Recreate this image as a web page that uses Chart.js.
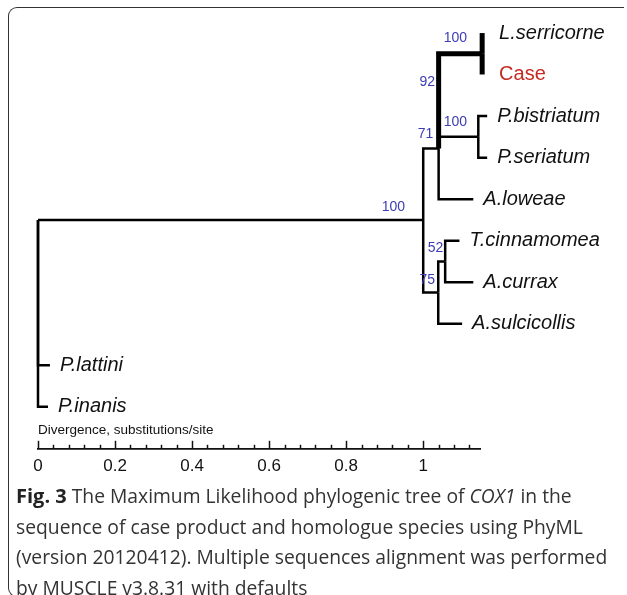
<!DOCTYPE html>
<html lang="en">
<head>
  <meta charset="UTF-8">
  <title>COX1 ML tree</title>
  <script src="https://cdn.jsdelivr.net/npm/chart.js"></script>
  <style>
    body {
      margin: 0;
      background: #fff;
      width: 627px;
      height: 595px;
      overflow: hidden;
      position: relative;
      font-family: Arial, "Liberation Sans", sans-serif;
    }
    #frame {
      position: absolute;
      left: 8px;
      top: 7px;
      width: 616px;
      height: 590px;
      box-sizing: border-box;
      border: 1.5px solid #333;
      border-right: none;
      border-radius: 9px 0 0 9px;
    }
    #tree {
      position: absolute;
      left: 0;
      top: 0;
    }
    #caption {
      position: absolute;
      left: 16px;
      top: 481px;
      font-family: "Open Sans", sans-serif;
      font-size: 19.3px;
      line-height: 30.7px;
      color: #333;
      white-space: nowrap;
    }
    #caption b {
      color: #222;
      font-size: 20px;
    }
  </style>
</head>
<body>
  <div id="frame"></div>
  <canvas id="tree" width="627" height="490"></canvas>
  <div id="caption">
    <b>Fig. 3</b> The Maximum Likelihood phylogenic tree of <i>COX1</i> in the<br>
    sequence of case product and homologue species using PhyML<br>
    (version 20120412). Multiple sequences alignment was performed<br>
    by MUSCLE v3.8.31 with defaults
  </div>

  <script>
    // leaves (tips), top to bottom
    const leafNames = ['L.serricorne', 'Case', 'P.bistriatum', 'P.seriatum', 'A.loweae',
                       'T.cinnamomea', 'A.currax', 'A.sulcicollis', 'P.lattini', 'P.inanis'];
    const leafDepth = [1.171, 1.171, 1.166, 1.166, 1.130, 1.094, 1.130, 1.101, 0.031, 0.026];
    const leafRow = [0, 1, 2, 3, 4, 5, 6, 7, 8, 9];
    const leafParent = ['LC', 'LC', 'PP', 'PP', 'B', 'D', 'D', 'C', 'root', 'root'];

    // internal nodes
    const nodeNames = ['root', 'A', 'B', 'LC', 'PP', 'C', 'D'];
    const nodeDepth = [0, 1.0, 1.040, 1.153, 1.143, 1.039, 1.057];
    const nodeRow = [4.5, 4.5, 2.78, 0.5, 2.5, 6.25, 5.5];
    const nodeParent = [null, 'root', 'A', 'B', 'B', 'A', 'C'];

    // branches drawn bold
    const thickBranches = ['LC', 'L.serricorne', 'Case'];

    // bootstrap values
    const supportValues = ['100', '92', '100', '71', '100', '52', '75'];
    const supportDepth = [1.114, 1.031, 1.114, 1.026, 0.953, 1.052, 1.031];
    const supportRow = [0.12, 1.17, 2.15, 2.44, 4.19, 5.17, 5.95];

    // axis
    const majorTicks = [0, 0.2, 0.4, 0.6, 0.8, 1];
    const majorLabels = ['0', '0.2', '0.4', '0.6', '0.8', '1'];
    const minorStep = 0.04;
    const axisEnd = 1.15;
    const axisTitle = 'Divergence, substitutions/site';

    function nodeInfo(name) {
      const i = nodeNames.indexOf(name);
      return { depth: nodeDepth[i], row: nodeRow[i] };
    }

    const branches = [];
    function addBranch(name, parent, depth, row) {
      const p = nodeInfo(parent);
      const thick = thickBranches.includes(name);
      branches.push({
        label: name,
        data: [{ x: p.depth, y: p.row }, { x: p.depth, y: row }, { x: depth, y: row }],
        showLine: true,
        borderColor: '#000',
        borderWidth: thick ? 5 : 2.5,
        borderJoinStyle: 'miter',
        borderCapStyle: 'butt',
        pointRadius: 0,
        tension: 0,
        clip: false
      });
    }
    nodeNames.forEach((n, i) => {
      if (nodeParent[i]) addBranch(n, nodeParent[i], nodeDepth[i], nodeRow[i]);
    });
    leafNames.forEach((n, i) => addBranch(n, leafParent[i], leafDepth[i], leafRow[i]));

    const treeDecor = {
      id: 'treeDecor',
      afterDraw(chart) {
        const ctx = chart.ctx;
        const x = chart.scales.x, y = chart.scales.y;
        const area = chart.chartArea;
        const axisY = area.bottom + 0.5;

        ctx.save();
        // scale bar
        ctx.strokeStyle = '#111';
        ctx.lineWidth = 1.8;
        ctx.beginPath();
        ctx.moveTo(x.getPixelForValue(0) - 1, axisY);
        ctx.lineTo(x.getPixelForValue(axisEnd), axisY);
        ctx.stroke();
        ctx.lineWidth = 1.5;
        for (let k = 0; k * minorStep < axisEnd; k++) {
          const v = k * minorStep;
          const major = majorTicks.some(t => Math.abs(t - v) < 1e-6);
          const px = Math.round(x.getPixelForValue(v)) + 0.5;
          ctx.beginPath();
          ctx.moveTo(px, axisY);
          ctx.lineTo(px, axisY - (major ? 8 : 4));
          ctx.stroke();
        }

        ctx.fillStyle = '#111';
        ctx.font = '13.5px Arial, "Liberation Sans", sans-serif';
        ctx.textBaseline = 'middle';
        ctx.textAlign = 'left';
        ctx.fillText(axisTitle, x.getPixelForValue(0), axisY - 19);

        // tip labels
        leafNames.forEach((name, i) => {
          const px = x.getPixelForValue(leafDepth[i]) + 10;
          const py = y.getPixelForValue(leafRow[i]);
          if (name === 'Case') {
            ctx.font = '20px Arial, "Liberation Sans", sans-serif';
            ctx.fillStyle = '#c62a22';
          } else {
            ctx.font = 'italic 20px Arial, "Liberation Sans", sans-serif';
            ctx.fillStyle = '#111';
          }
          ctx.fillText(name, px, py);
        });

        // bootstrap support
        ctx.font = '14px Arial, "Liberation Sans", sans-serif';
        ctx.fillStyle = '#3c3cb4';
        ctx.textAlign = 'right';
        supportValues.forEach((s, i) => {
          ctx.fillText(s, x.getPixelForValue(supportDepth[i]), y.getPixelForValue(supportRow[i]));
        });
        ctx.restore();
      }
    };

    new Chart(document.getElementById('tree'), {
      type: 'scatter',
      data: { datasets: branches },
      options: {
        responsive: false,
        animation: false,
        devicePixelRatio: 1,
        layout: { padding: { left: 38, right: 146, top: 12.3, bottom: 5.3 } },
        plugins: { legend: { display: false }, tooltip: { enabled: false } },
        scales: {
          x: {
            type: 'linear',
            min: 0,
            max: axisEnd,
            grid: { display: false, drawTicks: false },
            border: { display: false },
            afterBuildTicks: s => { s.ticks = majorTicks.map(v => ({ value: v })); },
            ticks: {
              padding: 8,
              color: '#111',
              font: { size: 17, family: 'Arial, "Liberation Sans", sans-serif' },
              maxRotation: 0,
              callback: (v, i) => majorLabels[i]
            }
          },
          y: {
            type: 'linear',
            display: false,
            reverse: true,
            min: -0.5,
            max: 10
          }
        }
      },
      plugins: [treeDecor]
    });
  </script>
</body>
</html>
